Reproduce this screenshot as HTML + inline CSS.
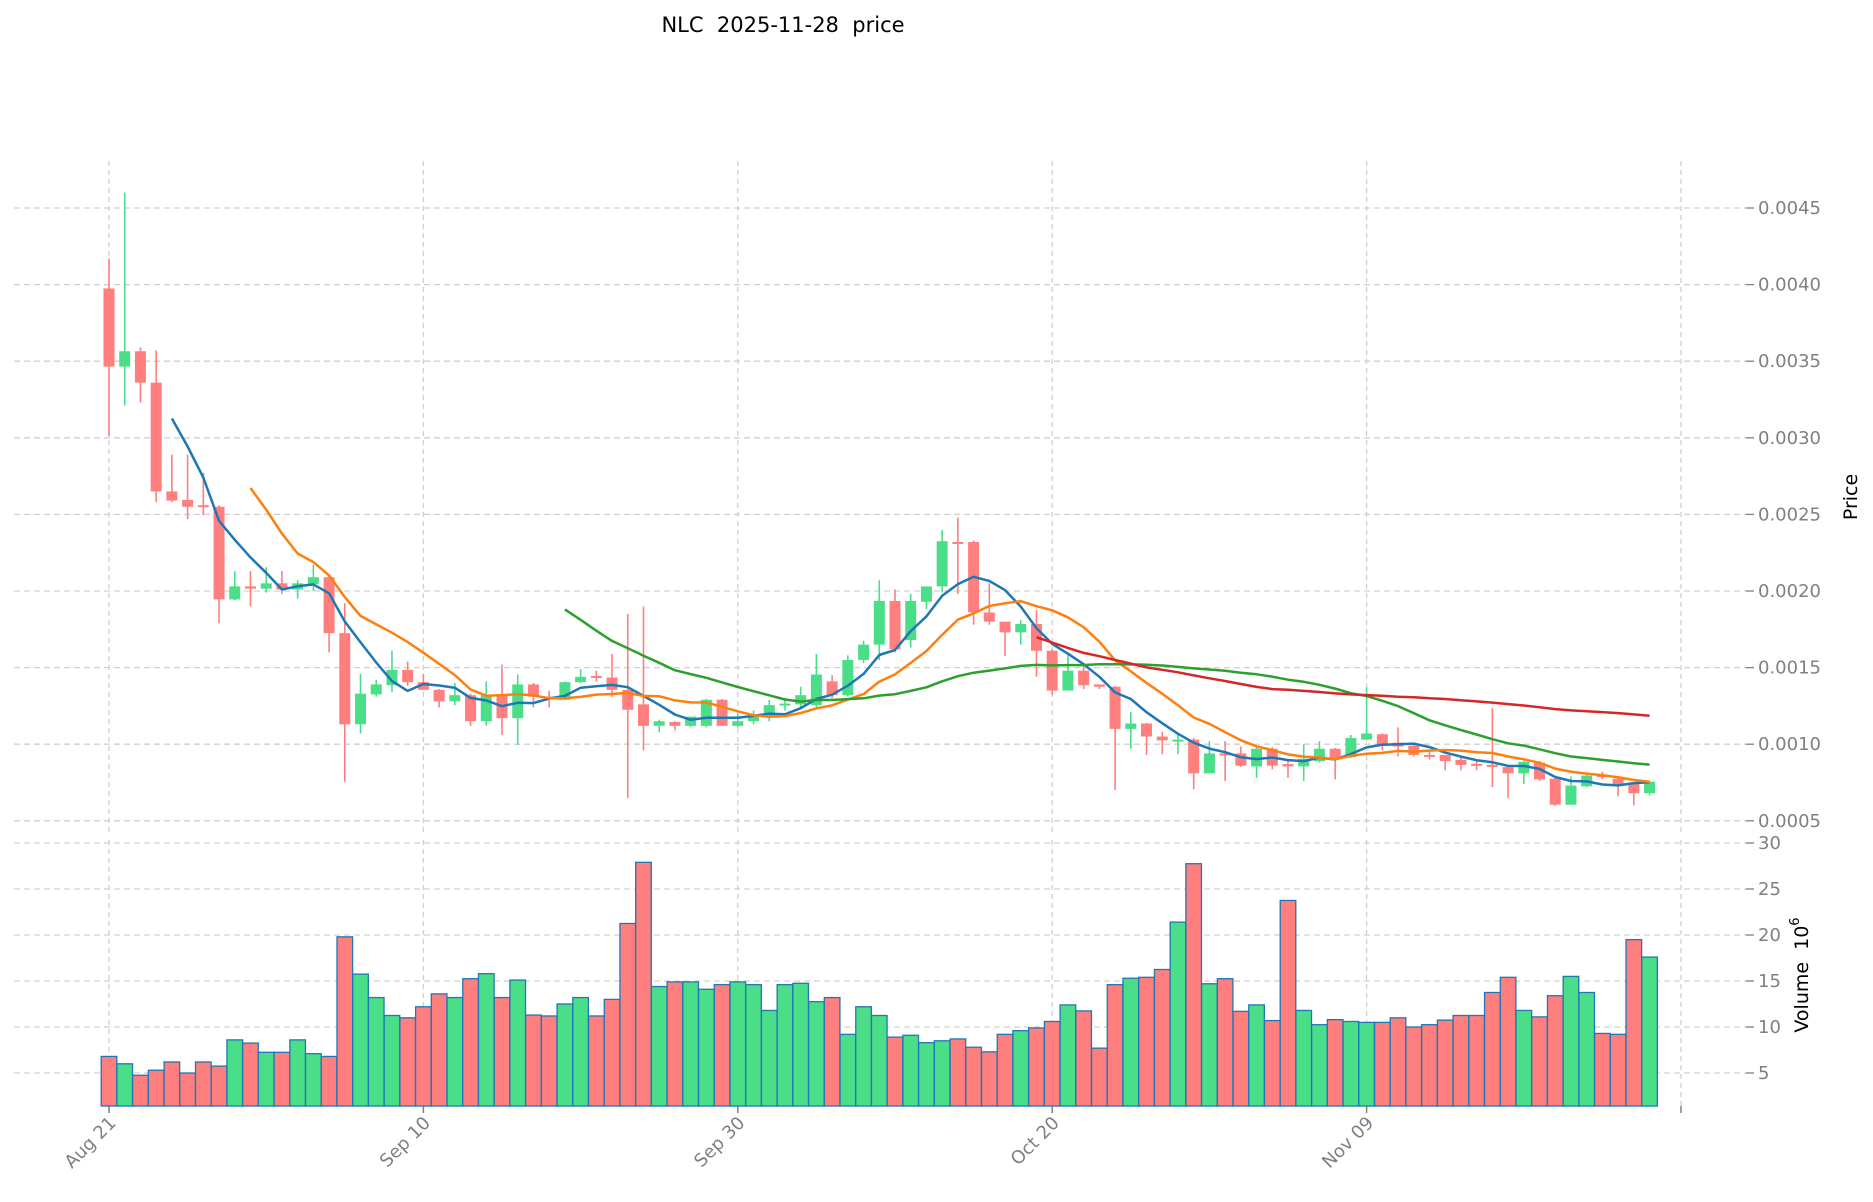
<!DOCTYPE html>
<html><head><meta charset="utf-8"><style>
html,body{margin:0;padding:0;background:#fff;}
svg{display:block;font-family:"DejaVu Sans","Liberation Sans",sans-serif;}
</style></head><body>
<svg id="c" width="1873" height="1202" viewBox="0 0 1873 1202" xmlns="http://www.w3.org/2000/svg"></svg>
<script>
const C=[
[39.75,34.65,41.7,30.1],[34.65,35.65,46,32.1],[35.65,33.6,35.9,32.3],[33.6,26.5,35.7,25.8],[26.5,25.9,28.9,25.8],
[25.95,25.5,28.9,24.7],[25.6,25.55,27.7,24.95],[25.5,19.45,25.6,17.9],[19.45,20.3,21.3,19.4],[20.3,20.15,21.3,19.0],
[20.15,20.5,21.55,19.9],[20.5,20.1,21.3,19.8],[20.1,20.5,20.7,19.5],[20.45,20.9,21.7,20.0],[20.9,17.25,21.0,16.0],
[17.25,11.3,19.2,7.55],[11.3,13.3,14.6,10.7],[13.25,13.9,14.2,13.1],[13.85,14.85,16.1,13.4],[14.85,14.05,15.4,13.8],
[14.05,13.55,14.6,13.55],[13.55,12.8,13.6,12.4],[12.8,13.2,14.0,12.55],[13.2,11.5,13.3,11.2],[11.5,13.2,14.1,11.2],
[13.2,11.7,15.2,10.6],[11.7,13.9,14.55,9.95],[13.9,13.1,14.0,12.4],[13.1,13.0,13.5,12.4],[12.9,14.05,14.1,12.9],
[14.05,14.4,14.9,14.0],[14.45,14.35,14.8,14.1],[14.35,13.55,15.9,13.1],[13.55,12.25,18.5,6.5],[12.6,11.2,19.0,9.6],
[11.2,11.5,11.6,10.8],[11.45,11.2,11.5,10.9],[11.2,11.8,11.8,11.1],[11.2,12.9,12.95,11.1],[12.9,11.2,12.95,11.2],
[11.2,11.5,12.0,11.1],[11.5,11.85,12.2,11.3],[11.85,12.55,12.9,11.5],[12.6,12.65,13.0,12.2],[12.6,13.2,13.75,12.4],
[12.55,14.55,15.9,12.4],[14.1,13.2,14.5,13.0],[13.2,15.5,15.8,13.1],[15.5,16.5,16.75,15.3],[16.5,19.35,20.7,15.5],
[19.35,16.2,20.1,16.0],[16.8,19.35,19.8,16.3],[19.3,20.3,20.3,18.8],[20.3,23.25,24.0,19.9],[23.2,23.15,24.8,19.8],
[23.2,18.6,23.3,17.8],[18.6,18.0,20.5,17.8],[18.0,17.3,18.0,15.75],[17.3,17.85,18.1,16.5],[17.85,16.1,18.75,14.4],
[16.1,13.5,16.2,13.2],[13.5,14.8,15.9,13.5],[14.8,13.85,15.3,13.6],[13.9,13.75,13.9,13.6],[13.75,11.0,13.8,7.0],
[11.0,11.35,12.1,9.7],[11.35,10.5,11.4,9.3],[10.5,10.25,10.8,9.35],[10.2,10.3,10.6,9.35],[10.3,8.1,10.4,7.05],
[8.1,9.4,10.2,8.1],[9.4,9.35,10.2,7.6],[9.4,8.6,9.85,8.5],[8.55,9.7,9.8,7.8],[9.7,8.6,9.8,8.35],
[8.7,8.55,9.0,7.8],[8.55,9.05,10.0,7.6],[8.9,9.7,10.2,8.8],[9.7,9.1,9.75,7.7],[9.15,10.4,10.6,9.1],
[10.3,10.7,13.7,10.3],[10.65,9.95,10.7,9.6],[10.1,9.85,11.1,9.2],[9.9,9.3,9.95,9.2],[9.3,9.25,9.5,9.0],
[9.3,8.9,9.3,8.3],[8.98,8.65,9.2,8.3],[8.72,8.68,9.0,8.3],[8.65,8.6,12.35,7.2],[8.5,8.1,8.6,6.5],
[8.1,8.85,8.9,7.4],[8.8,7.7,8.9,7.6],[7.75,6.05,7.9,5.98],[6.05,7.3,7.9,6.05],[7.25,7.95,8.0,7.2],
[8.0,7.85,8.2,7.7],[7.75,7.4,7.8,6.6],[7.4,6.8,7.45,6.0],[6.8,7.55,7.6,6.65]];
const V=[6.8,6.0,4.75,5.3,6.2,5.0,6.2,5.75,8.6,8.25,7.25,7.25,8.6,7.1,6.8,19.8,15.75,13.2,11.25,11.0,12.2,13.6,13.2,15.25,15.8,13.2,15.1,11.3,11.2,12.5,13.2,11.2,13.0,21.25,27.9,14.4,14.9,14.9,14.1,14.6,14.9,14.6,11.8,14.6,14.75,12.75,13.2,9.2,12.2,11.25,8.9,9.1,8.3,8.5,8.7,7.8,7.3,9.2,9.6,9.9,10.6,12.4,11.75,7.7,14.6,15.3,15.4,16.25,21.4,27.75,14.7,15.25,11.7,12.4,10.7,23.75,11.8,10.25,10.8,10.6,10.5,10.5,11.0,10.0,10.25,10.75,11.25,11.25,13.75,15.4,11.8,11.1,13.4,15.5,13.75,9.3,9.2,19.5,17.6];
const X=i=>109+i*15.72, Y=p=>208+(45-p)/5*76.6, VY=v=>843+(30-v)*9.2;
const RED='#ff7f7f',GRN='#4bde88',GRID='#d0d0d0',TXT='#808080';
let s='';
s+=`<text x="783" y="32" font-size="21" text-anchor="middle" fill="#000" style="white-space:pre" xml:space="preserve">NLC  2025-11-28  price</text>`;
[0,20,40,60,80,100].forEach(d=>{const x=X(d);
 s+=`<line x1="${x}" y1="161" x2="${x}" y2="833" stroke="${GRID}" stroke-width="1.3" stroke-dasharray="5,4"/>`;
 s+=`<line x1="${x}" y1="840" x2="${x}" y2="1106" stroke="${GRID}" stroke-width="1.3" stroke-dasharray="5,4"/>`;
 s+=`<line x1="${x}" y1="1106" x2="${x}" y2="1113" stroke="${TXT}" stroke-width="1.5"/>`;});
for(let k=0;k<9;k++){const p=45-k*5,y=Y(p);
 s+=`<line x1="14" y1="${y}" x2="1746" y2="${y}" stroke="${GRID}" stroke-width="1.3" stroke-dasharray="6,4"/>`;
 s+=`<line x1="1746" y1="${y}" x2="1754" y2="${y}" stroke="${TXT}" stroke-width="1.3"/>`;
 s+=`<text x="1758" y="${y+6}" font-size="18" fill="${TXT}">${(p/10000).toFixed(4)}</text>`;}
for(let v=5;v<=30;v+=5){const y=VY(v);
 s+=`<line x1="14" y1="${y}" x2="1746" y2="${y}" stroke="${GRID}" stroke-width="1.3" stroke-dasharray="6,4"/>`;
 s+=`<line x1="1746" y1="${y}" x2="1754" y2="${y}" stroke="${TXT}" stroke-width="1.3"/>`;
 s+=`<text x="1758" y="${y+6}" font-size="18" fill="${TXT}">${v}</text>`;}
s+=`<text transform="translate(1857,497) rotate(-90)" font-size="19" text-anchor="middle" fill="#000">Price</text>`;
s+=`<text transform="translate(1808,975) rotate(-90)" font-size="19" text-anchor="middle" fill="#000" xml:space="preserve">Volume  10<tspan dy="-9" font-size="13">6</tspan></text>`;
V.forEach((v,i)=>{const c=C[i],col=c[1]>=c[0]?GRN:RED,y=VY(v),x=X(i)-7.8;
 s+=`<rect x="${x}" y="${y}" width="15.6" height="${1106-y}" fill="${col}" stroke="#1f77b4" stroke-width="1.3"/>`;});
C.forEach((c,i)=>{const col=c[1]>=c[0]?GRN:RED,x=X(i);const t=Y(Math.max(c[0],c[1])),b=Y(Math.min(c[0],c[1]));
 s+=`<line x1="${x}" y1="${Y(c[2])}" x2="${x}" y2="${Y(c[3])}" stroke="${col}" stroke-width="1.6"/>`;
 s+=`<rect x="${x-5.5}" y="${t}" width="11" height="${Math.max(b-t,2)}" fill="${col}"/>`;});
function ma(n,col){let pts=[];for(let i=n-1;i<C.length;i++){let a=0;for(let j=i-n+1;j<=i;j++)a+=C[j][1];pts.push(X(i).toFixed(1)+','+Y(a/n).toFixed(1));}
 s+=`<polyline points="${pts.join(' ')}" fill="none" stroke="${col}" stroke-width="2.5" stroke-linejoin="round"/>`;}
ma(5,'#1f77b4');ma(10,'#ff7f0e');ma(30,'#2ca02c');ma(60,'#d62728');
[['Aug 21',0],['Sep 10',20],['Sep 30',40],['Oct 20',60],['Nov 09',80]].forEach(([t,d])=>{const x=X(d);
 s+=`<text transform="translate(${x+8},${1124}) rotate(-45)" font-size="18" text-anchor="end" fill="${TXT}">${t}</text>`;});
document.getElementById('c').innerHTML=s;
</script>
</body></html>
